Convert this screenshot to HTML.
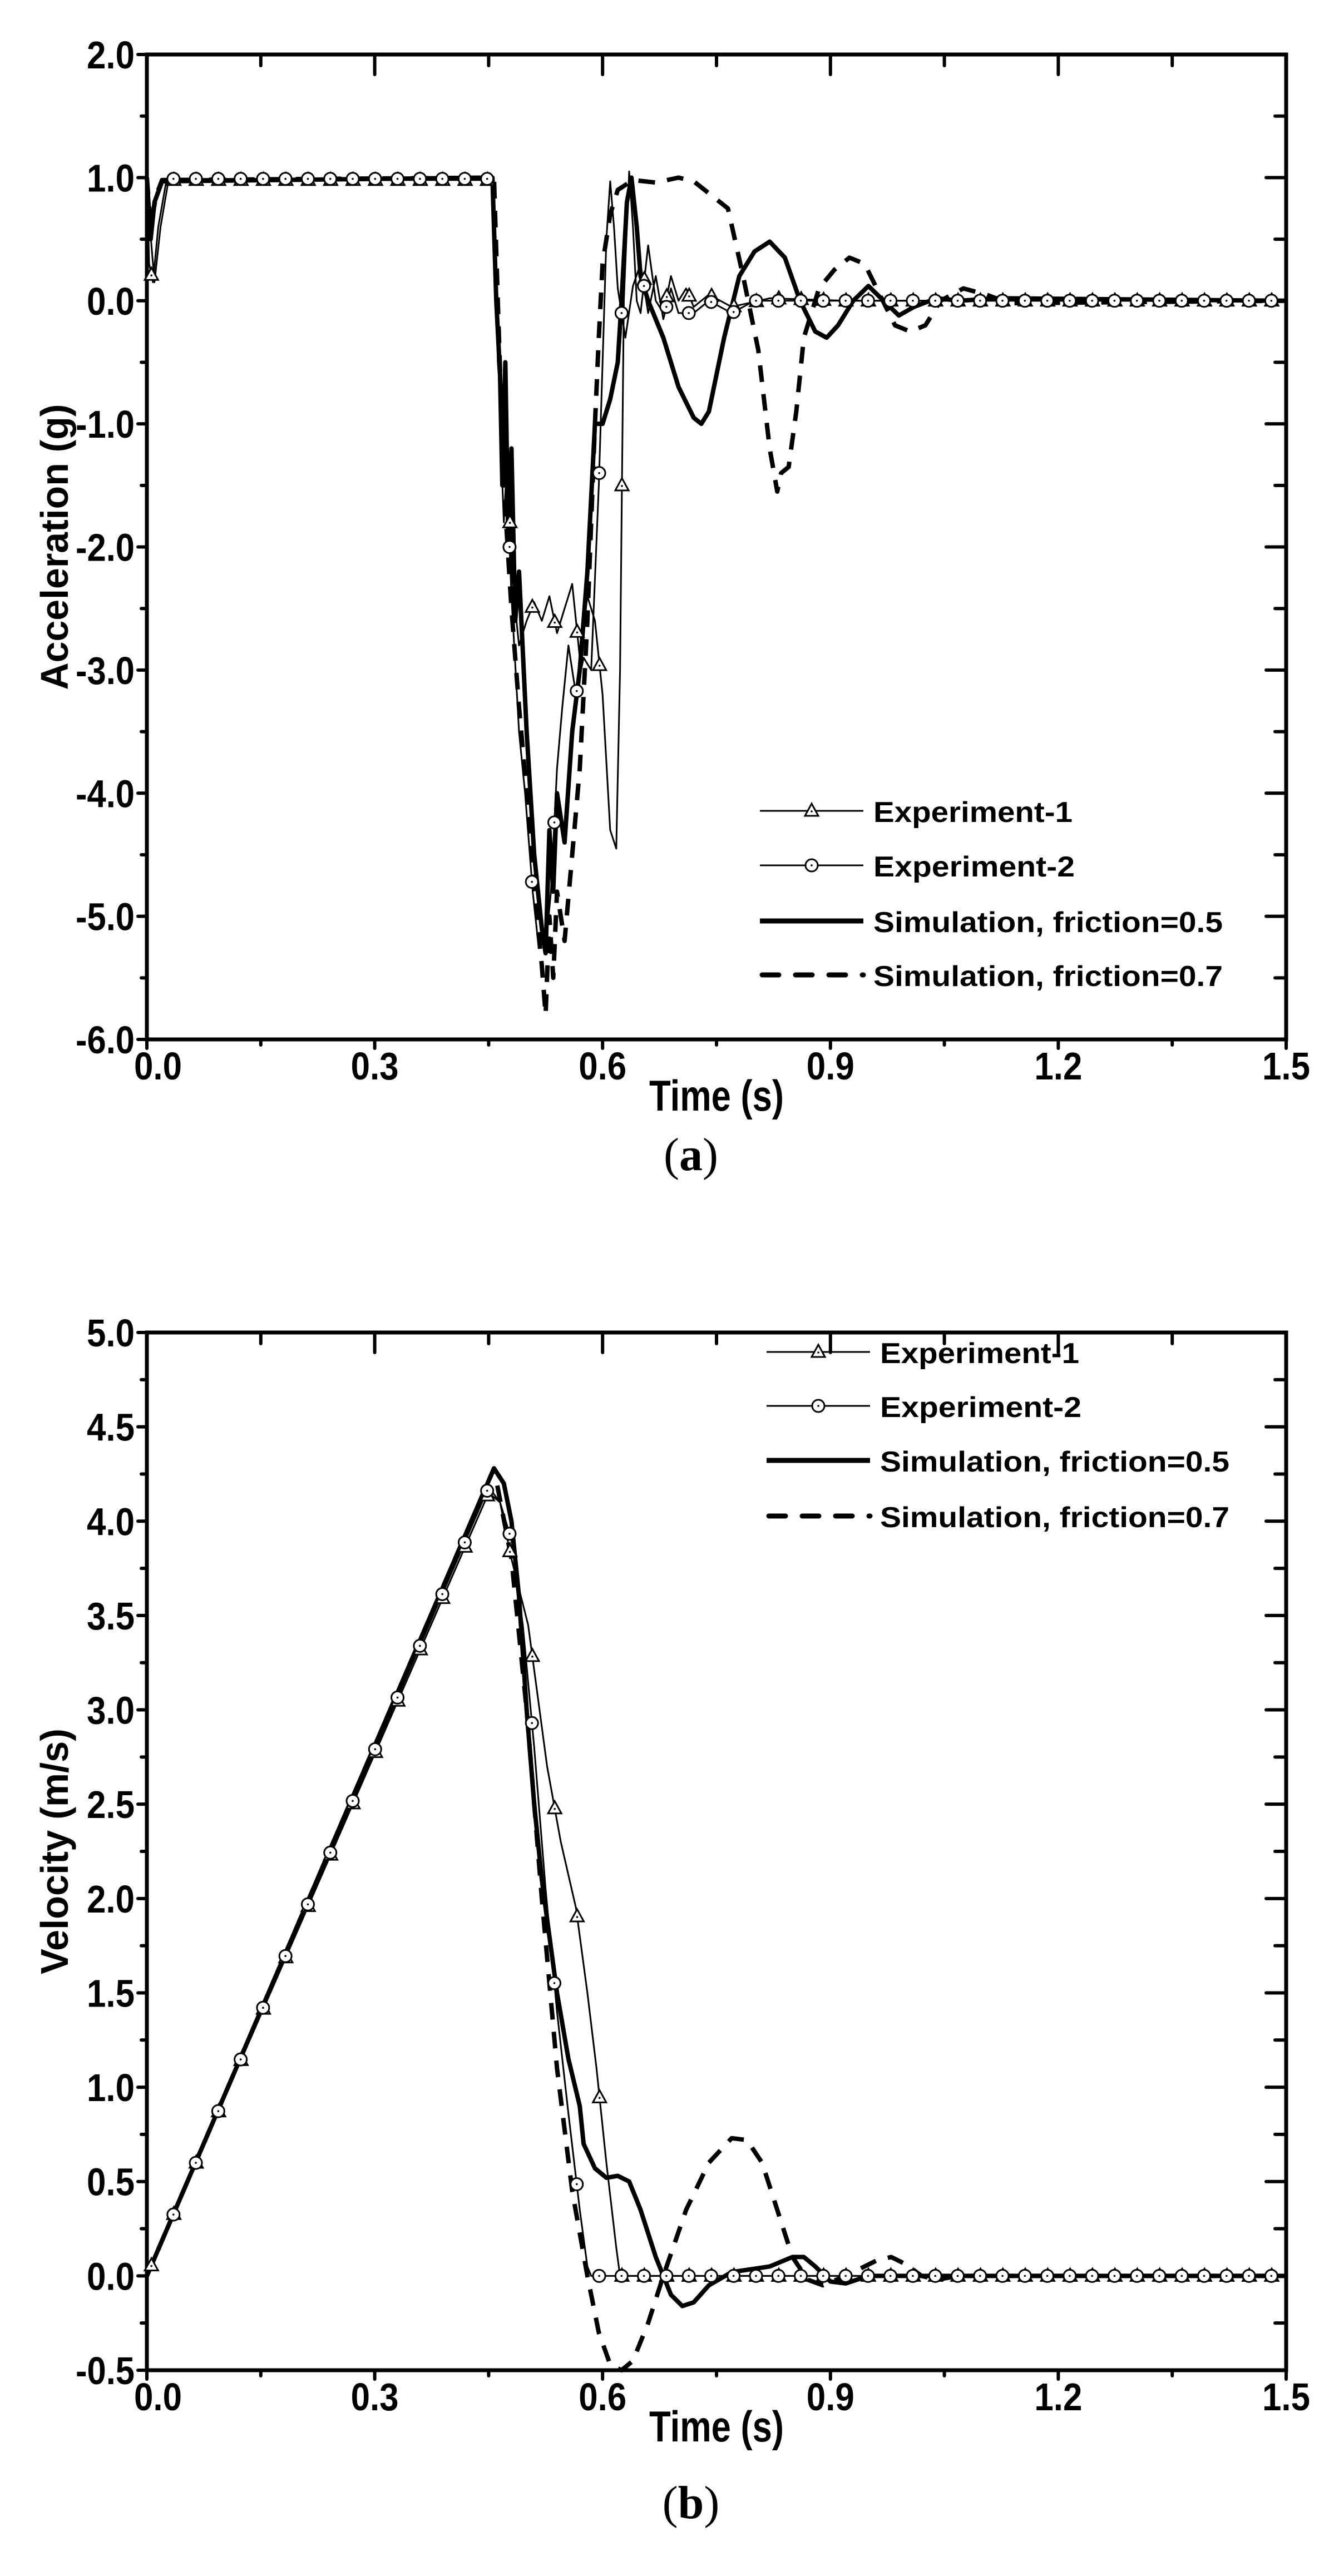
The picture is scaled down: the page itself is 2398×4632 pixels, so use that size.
<!DOCTYPE html>
<html><head><meta charset="utf-8">
<style>
html,body{margin:0;padding:0;background:#fff;}
svg{display:block;}
text{font-family:"Liberation Sans",Arial,sans-serif;font-weight:bold;fill:#000;}
</style></head>
<body>
<svg id="s" xmlns="http://www.w3.org/2000/svg" width="2398" height="4632" viewBox="0 0 2398 4632">
<rect width="2398" height="4632" fill="#fff"/>
<g id="g"></g>
<text x="1242" y="2104" text-anchor="middle" style="font-family:'Liberation Serif',serif;font-weight:normal;font-size:84px">(<tspan style="font-weight:bold">a</tspan>)</text>
<text x="1242" y="4528" text-anchor="middle" style="font-family:'Liberation Serif',serif;font-weight:normal;font-size:84px">(<tspan style="font-weight:bold">b</tspan>)</text>
</svg>
<script>
(function(){
var NS="http://www.w3.org/2000/svg";
var G=document.getElementById("g");
function el(n,a,t){var e=document.createElementNS(NS,n);for(var k in a)e.setAttribute(k,a[k]);if(t!=null)e.textContent=t;G.appendChild(e);return e;}
var L=264,R=2312;
function X(t){return L+t*(R-L)/1.5;}
function interp(d,t){for(var i=1;i<d.length;i++){if(d[i][0]>=t){var a=d[i-1],b=d[i];var f=(t-a[0])/(b[0]-a[0]||1);return a[1]+f*(b[1]-a[1]);}}return d[d.length-1][1];}
function path(d,Y){return d.map(function(p,i){return (i?"L":"M")+X(p[0]).toFixed(1)+" "+Y(p[1]).toFixed(1);}).join(" ");}
function tri(x,y){el("path",{d:"M"+x+" "+(y-13)+" L"+(x+12)+" "+(y+9)+" L"+(x-12)+" "+(y+9)+" Z",fill:"#fff",stroke:"#000","stroke-width":3});el("circle",{cx:x,cy:y+1,r:1.8,fill:"#000"});}
function circ(x,y){el("circle",{cx:x,cy:y,r:11,fill:"#fff",stroke:"#000","stroke-width":3});el("circle",{cx:x,cy:y,r:1.8,fill:"#000"});}

function axes(T,B,ymin,ymax,major,minor,ylab,ylen){
  var Y=function(v){return T+(ymax-v)*(B-T)/(ymax-ymin);};
  el("path",{d:"M"+L+" "+T+" H"+R+" V"+B+" H"+L+" Z",fill:"none",stroke:"#000","stroke-width":7});
  var n=Math.round((ymax-ymin)/minor);
  for(var i=0;i<=n;i++){var v=ymin+i*minor;var y=Y(v);var isM=Math.abs(v/major-Math.round(v/major))<1e-6;
    el("line",{x1:L-(isM?16:10),y1:y,x2:L,y2:y,stroke:"#000","stroke-width":6,"stroke-linecap":"round"});
    el("line",{x1:R,y1:y,x2:R-(isM?36:20),y2:y,stroke:"#000","stroke-width":6,"stroke-linecap":"round"});
    if(isM){var s=v.toFixed(1);el("text",{x:L-22,y:y+25,"text-anchor":"end","font-size":70,textLength:(s.length>3?106:86),lengthAdjust:"spacingAndGlyphs"},s);}
  }
  for(var j=0;j<=10;j++){var t=j*0.15;var x=X(t);var isM=j%2==0;
    el("line",{x1:x,y1:B,x2:x,y2:B+(isM?16:10),stroke:"#000","stroke-width":6,"stroke-linecap":"round"});
    el("line",{x1:x,y1:T,x2:x,y2:T+(isM?36:20),stroke:"#000","stroke-width":6,"stroke-linecap":"round"});
    if(isM){var s=t.toFixed(1);el("text",{x:x+(j==0?20:0),y:B+72,"text-anchor":"middle","font-size":70,textLength:86,lengthAdjust:"spacingAndGlyphs"},s);}
  }
  el("text",{x:(L+R)/2,y:B+128,"text-anchor":"middle","font-size":78,textLength:242,lengthAdjust:"spacingAndGlyphs"},"Time (s)");
  var cy=(T+B)/2;
  el("text",{x:0,y:0,"text-anchor":"middle","font-size":70,textLength:ylen,lengthAdjust:"spacingAndGlyphs",transform:"translate(122,"+cy+") rotate(-90)"},ylab);
  return Y;
}
function legend(x0,ys){
  var tx=x0+204;
  el("line",{x1:x0,y1:ys[0],x2:x0+186,y2:ys[0],stroke:"#000","stroke-width":3});tri(x0+93,ys[0]);
  el("line",{x1:x0,y1:ys[1],x2:x0+186,y2:ys[1],stroke:"#000","stroke-width":3});circ(x0+93,ys[1]);
  el("line",{x1:x0,y1:ys[2],x2:x0+186,y2:ys[2],stroke:"#000","stroke-width":9});
  el("line",{x1:x0+4,y1:ys[3],x2:x0+186,y2:ys[3],stroke:"#000","stroke-width":9,"stroke-dasharray":"30 30","stroke-linecap":"round"});
  var labs=["Experiment-1","Experiment-2","Simulation, friction=0.5","Simulation, friction=0.7"];
  var lens=[358,362,628,628];
  for(var i=0;i<4;i++)el("text",{x:tx,y:ys[i]+20,"font-size":52,textLength:lens[i],lengthAdjust:"spacingAndGlyphs"},labs[i]);
}
function series(Y,e1,e2,s5,s7){
  el("path",{d:path(s7,Y),fill:"none",stroke:"#000","stroke-width":8,"stroke-dasharray":"30 22","stroke-linejoin":"round"});
  el("path",{d:path(s5,Y),fill:"none",stroke:"#000","stroke-width":8,"stroke-linejoin":"round"});
  el("path",{d:path(e1,Y),fill:"none",stroke:"#000","stroke-width":3,"stroke-linejoin":"round"});
  el("path",{d:path(e2,Y),fill:"none",stroke:"#000","stroke-width":3,"stroke-linejoin":"round"});
  for(var t=0.006;t<=1.5;t+=0.0295){tri(X(t),Y(interp(e1,t)));}
  for(var t=0.035;t<=1.5;t+=0.0295){circ(X(t),Y(interp(e2,t)));}
}
function shift(d,t0,dt){return d.map(function(p){return p[0]>=t0&&p[0]<1.5?[p[0]+dt,p[1]]:p;});}
function S(d){return shift(d,0.42,0.02);}

/* (a) */
var YA=axes(98,1869,-6,2,1,0.5,"Acceleration (g)",514);
var a1=[[0,1.0],[0.003,0.3],[0.008,0.15],[0.015,0.6],[0.025,0.95],[0.03,0.98],[0.435,0.98],[0.44,0.2],[0.445,-1.0],[0.45,-1.8],[0.455,-1.2],[0.46,-2.2],[0.47,-2.8],[0.48,-2.6],[0.49,-2.45],[0.5,-2.6],[0.51,-2.4],[0.52,-2.7],[0.53,-2.5],[0.54,-2.3],[0.55,-2.9],[0.56,-2.4],[0.57,-2.6],[0.58,-3.2],[0.59,-4.3],[0.598,-4.45],[0.603,-3.0],[0.608,0.0],[0.615,1.05],[0.62,0.6],[0.625,0.0],[0.63,-0.1],[0.64,0.45],[0.65,0.0],[0.66,-0.1],[0.67,0.2],[0.68,0.0],[0.69,0.1],[0.70,-0.05],[0.72,0.05],[0.75,-0.05],[0.8,0.02],[0.9,0],[1.5,0]];
var a2=[[0,1.0],[0.004,0.6],[0.01,0.15],[0.018,0.6],[0.028,0.96],[0.035,0.99],[0.43,0.99],[0.437,0.95],[0.442,-0.5],[0.448,-1.0],[0.455,-1.6],[0.46,-2.4],[0.47,-3.5],[0.478,-4.0],[0.488,-4.8],[0.495,-5.2],[0.505,-5.25],[0.512,-4.8],[0.52,-3.8],[0.527,-3.3],[0.535,-2.8],[0.545,-3.2],[0.555,-2.9],[0.565,-3.0],[0.575,-1.5],[0.585,0.5],[0.59,0.97],[0.595,0.6],[0.6,0.1],[0.61,-0.3],[0.62,0.12],[0.63,0.3],[0.64,-0.1],[0.65,0.2],[0.66,-0.15],[0.67,0.1],[0.68,-0.1],[0.7,-0.1],[0.72,0.0],[0.75,-0.1],[0.78,0.0],[0.85,0.0],[1.5,0]];
var a5=[[0,1.0],[0.005,0.5],[0.01,0.8],[0.02,0.97],[0.435,1.0],[0.44,0.0],[0.445,-0.6],[0.448,-1.5],[0.452,-0.5],[0.456,-2.0],[0.46,-1.2],[0.465,-2.6],[0.47,-2.2],[0.48,-3.5],[0.49,-4.5],[0.5,-5.1],[0.505,-5.3],[0.51,-4.3],[0.515,-4.8],[0.52,-4.0],[0.53,-4.4],[0.54,-3.5],[0.55,-3.0],[0.56,-2.2],[0.565,-1.6],[0.57,-1.0],[0.58,-1.0],[0.59,-0.8],[0.6,-0.5],[0.605,0.0],[0.612,0.8],[0.618,1.0],[0.625,0.6],[0.63,0.2],[0.64,0.0],[0.66,-0.3],[0.68,-0.7],[0.7,-0.95],[0.71,-1.0],[0.72,-0.9],[0.74,-0.3],[0.76,0.2],[0.78,0.4],[0.8,0.48],[0.82,0.35],[0.84,0.0],[0.86,-0.25],[0.875,-0.3],[0.89,-0.2],[0.91,0.0],[0.93,0.12],[0.95,0.0],[0.97,-0.12],[0.99,-0.05],[1.02,0.02],[1.05,0.0],[1.1,0.02],[1.5,0]];
var a7=[[0,1.0],[0.005,0.6],[0.012,0.85],[0.02,0.98],[0.437,1.0],[0.442,0.0],[0.45,-1.5],[0.46,-2.5],[0.47,-3.3],[0.48,-4.0],[0.49,-4.8],[0.5,-5.4],[0.505,-5.8],[0.51,-5.0],[0.515,-5.5],[0.52,-4.8],[0.53,-5.2],[0.54,-4.5],[0.55,-3.8],[0.56,-2.6],[0.57,-1.0],[0.575,-0.3],[0.58,0.3],[0.59,0.7],[0.6,0.9],[0.62,0.98],[0.65,0.96],[0.68,1.0],[0.7,0.97],[0.72,0.75],[0.74,0.2],[0.76,-0.4],[0.775,-1.2],[0.785,-1.55],[0.79,-1.4],[0.8,-1.35],[0.81,-0.9],[0.82,-0.3],[0.84,0.1],[0.86,0.25],[0.88,0.35],[0.9,0.3],[0.92,0.05],[0.94,-0.2],[0.96,-0.25],[0.98,-0.2],[1.0,0.0],[1.03,0.1],[1.06,0.05],[1.09,-0.02],[1.5,0]];
a7=shift(a7,0.705,0.025);
series(YA,S(a1),S(a2),S(a5),S(a7));
legend(1366,[1458,1556,1656,1753]);

/* (b) */
var YB=axes(2396,4262,-0.5,5,0.5,0.25,"Velocity (m/s)",442);
var v1=[[0,0],[0.43,4.15],[0.445,4.1],[0.46,3.8],[0.482,3.45],[0.507,2.7],[0.525,2.3],[0.545,1.95],[0.56,1.5],[0.572,1.1],[0.585,0.6],[0.598,0.15],[0.603,0],[1.5,0]];
var v2=[[0,0],[0.43,4.18],[0.445,4.1],[0.46,3.9],[0.475,3.45],[0.49,2.8],[0.505,2.05],[0.52,1.4],[0.535,0.86],[0.55,0.35],[0.56,0.05],[0.565,0],[1.5,0]];
var v5=[[0,0],[0.437,4.28],[0.45,4.2],[0.46,4.0],[0.47,3.6],[0.48,3.0],[0.49,2.5],[0.5,2.1],[0.51,1.8],[0.52,1.5],[0.535,1.15],[0.55,0.9],[0.565,0.7],[0.58,0.57],[0.595,0.52],[0.61,0.53],[0.625,0.5],[0.64,0.35],[0.66,0.1],[0.68,-0.1],[0.695,-0.16],[0.71,-0.14],[0.73,-0.05],[0.76,0.02],[0.8,0.05],[0.83,0.1],[0.845,0.1],[0.86,0.05],[0.88,-0.03],[0.9,-0.04],[0.93,0],[1.5,0]];
v5=v5.map(function(p){return (p[0]>=0.565&&p[0]<=0.76)?[p[0]-0.01,p[1]]:p;});
var v7=[[0,0],[0.437,4.28],[0.46,3.8],[0.48,3.0],[0.5,2.0],[0.52,1.1],[0.54,0.45],[0.56,0.0],[0.575,-0.3],[0.59,-0.47],[0.605,-0.5],[0.62,-0.45],[0.64,-0.25],[0.66,0.0],[0.69,0.35],[0.72,0.6],[0.75,0.73],[0.77,0.72],[0.79,0.6],[0.81,0.35],[0.83,0.1],[0.85,-0.02],[0.87,-0.05],[0.9,0.0],[0.94,0.08],[0.96,0.1],[0.98,0.06],[1.0,0.0],[1.02,-0.02],[1.05,0],[1.5,0]];
series(YB,S(v1),S(v2),S(v5),S(v7));
legend(1378,[2431,2528,2626,2726]);
})();
</script>
</body></html>
